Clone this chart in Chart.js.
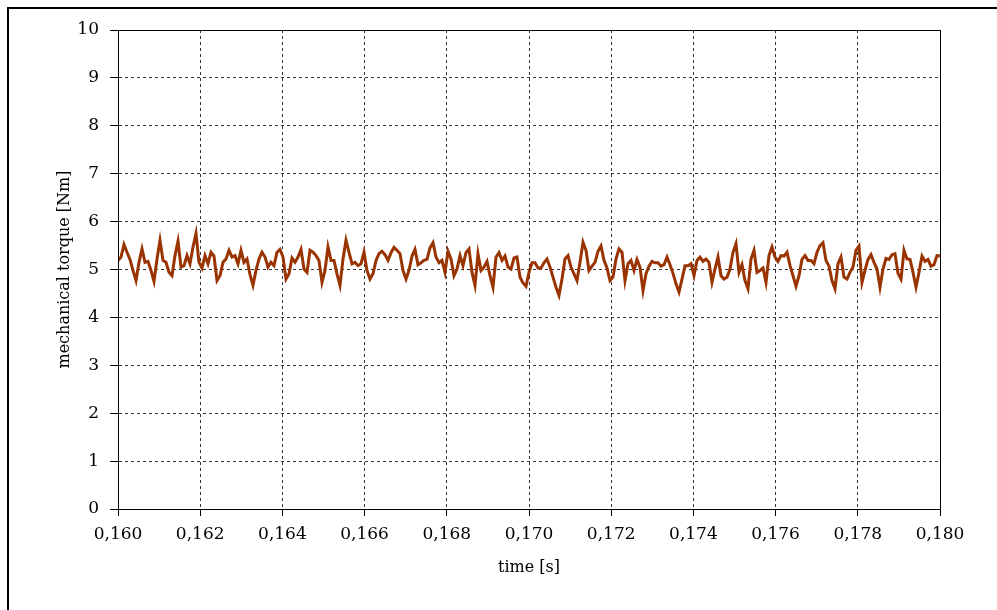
<!DOCTYPE html>
<html>
<head>
<meta charset="utf-8">
<script src="https://cdn.jsdelivr.net/npm/chart.js@4/dist/chart.umd.min.js"></script>
<style>
  html, body { margin: 0; padding: 0; background: #fff; }
  #wrap { width: 997px; height: 610px; position: relative; }
</style>
</head>
<body>
<div id="wrap"><canvas id="torque-chart"></canvas></div>
<script>
// time axis: samples taken on a uniform grid between these two instants
var timeStart = 0.160;
var timeEnd = 0.180;
var timeTicks = [0.160, 0.162, 0.164, 0.166, 0.168, 0.170, 0.172, 0.174, 0.176, 0.178, 0.180];
var torqueTicks = [0, 1, 2, 3, 4, 5, 6, 7, 8, 9, 10];

// mechanical torque [Nm]
var torque = [
  5.19, 5.26, 5.52, 5.36, 5.21, 4.98, 4.77, 5.15, 5.43, 5.15, 5.17, 4.98, 4.75, 5.22, 5.61, 5.19,
  5.15, 4.94, 4.87, 5.29, 5.59, 5.05, 5.08, 5.29, 5.12, 5.47, 5.75, 5.15, 5.03, 5.29, 5.12, 5.36,
  5.28, 4.77, 4.87, 5.15, 5.22, 5.40, 5.26, 5.29, 5.12, 5.40, 5.15, 5.22, 4.90, 4.67, 4.98, 5.22,
  5.36, 5.26, 5.05, 5.15, 5.08, 5.36, 5.42,
  5.26, 4.80, 4.91, 5.24, 5.15, 5.26, 5.42, 5.01, 4.94, 5.40, 5.36, 5.29, 5.19, 4.73, 4.98, 5.47,
  5.19, 5.19, 4.91, 4.67, 5.22, 5.61, 5.36, 5.12, 5.15, 5.08, 5.12, 5.36, 4.98, 4.80, 4.91, 5.19,
  5.33, 5.38, 5.31, 5.19, 5.35, 5.46, 5.40, 5.33, 4.98, 4.80, 4.98, 5.28, 5.42, 5.10, 5.14, 5.19,
  5.21, 5.45, 5.56, 5.26, 5.14, 5.19, 4.94,
  5.38, 5.22, 4.87, 5.01, 5.29, 5.08, 5.35, 5.43, 4.94, 4.67, 5.33, 4.98, 5.05, 5.17, 4.87, 4.63,
  5.26, 5.35, 5.19, 5.28, 5.05, 5.01, 5.24, 5.26, 4.84, 4.72, 4.65, 4.94, 5.14, 5.14, 5.03, 5.03,
  5.14, 5.22, 5.05, 4.84, 4.63, 4.46, 4.80, 5.22, 5.29, 5.05, 4.91, 4.77, 5.15, 5.57, 5.40, 4.98,
  5.07, 5.15, 5.38, 5.49, 5.19, 5.03, 4.77,
  4.84, 5.22, 5.43, 5.36, 4.77, 5.12, 5.19, 4.98, 5.21, 5.05, 4.56, 4.91, 5.07, 5.17, 5.14, 5.14,
  5.07, 5.10, 5.26, 5.10, 4.92, 4.70, 4.53, 4.80, 5.08, 5.08, 5.12, 4.87, 5.19, 5.26, 5.17, 5.22,
  5.15, 4.73, 5.01, 5.26, 4.87, 4.80, 4.84, 5.01, 5.36, 5.54, 4.94, 5.10, 4.77, 4.60, 5.22, 5.40,
  4.94, 4.98, 5.03, 4.73, 5.29, 5.47, 5.26,
  5.17, 5.29, 5.28, 5.36, 5.08, 4.87, 4.65, 4.87, 5.21, 5.29, 5.19, 5.19, 5.12, 5.36, 5.50, 5.56,
  5.19, 5.07, 4.77, 4.60, 5.12, 5.26, 4.84, 4.80, 4.94, 5.05, 5.40, 5.49, 4.73, 4.98, 5.21, 5.31,
  5.15, 5.01, 4.63, 5.01, 5.23, 5.21, 5.31, 5.33, 4.92, 4.80, 5.40, 5.22, 5.21, 4.94, 4.63, 4.94,
  5.28, 5.17, 5.21, 5.07, 5.10, 5.29, 5.28
];

var points = torque.map(function (v, i) {
    return { x: timeStart + i * (timeEnd - timeStart) / (torque.length - 1), y: v };
});

var serif = "'DejaVu Serif', 'Liberation Serif', serif";

// outer figure frame (left and top edges only) and the plot box
var framePlugin = {
    id: 'frame',
    beforeDraw: function (chart) {
        var ctx = chart.ctx;
        ctx.save();
        ctx.fillStyle = '#fff';
        ctx.fillRect(0, 0, chart.width, chart.height);
        ctx.strokeStyle = '#000';
        ctx.lineWidth = 2;
        ctx.beginPath();
        ctx.moveTo(8, chart.height);
        ctx.lineTo(8, 8);
        ctx.lineTo(chart.width, 8);
        ctx.stroke();
        ctx.restore();
    },
    afterDatasetsDraw: function (chart) {
        var a = chart.chartArea;
        var ctx = chart.ctx;
        ctx.save();
        ctx.strokeStyle = '#000';
        ctx.lineWidth = 1;
        ctx.setLineDash([]);
        ctx.strokeRect(Math.round(a.left) + 0.5, Math.round(a.top) + 0.5,
            Math.round(a.right - a.left), Math.round(a.bottom - a.top));
        ctx.restore();
    }
};

var ctx = document.getElementById('torque-chart').getContext('2d');

new Chart(ctx, {
    type: 'line',
    data: {
        datasets: [{
            label: 'mechanical torque',
            data: points,
            borderColor: '#993300',
            borderWidth: 3,
            pointRadius: 0,
            tension: 0,
            fill: false
        }]
    },
    options: {
        responsive: true,
        maintainAspectRatio: false,
        animation: false,
        events: [],
        layout: {
            padding: { left: 51, top: 30, right: 57, bottom: 29 }
        },
        plugins: {
            legend: { display: false },
            tooltip: { enabled: false }
        },
        scales: {
            x: {
                type: 'linear',
                min: timeStart,
                max: timeEnd,
                afterBuildTicks: function (scale) {
                    scale.ticks = timeTicks.map(function (t) { return { value: t }; });
                },
                afterFit: function (scale) {
                    scale.height = 72;
                },
                grid: {
                    color: '#333',
                    tickBorderDash: [],
                    tickColor: '#000',
                    tickLength: 7,
                    lineWidth: 1
                },
                border: { display: true, color: '#000', width: 1, dash: [3, 3] },
                ticks: {
                    color: '#000',
                    padding: 8,
                    maxRotation: 0,
                    autoSkip: false,
                    font: { family: serif, size: 17 },
                    callback: function (value) {
                        return value.toFixed(3).replace('.', ',');
                    }
                },
                title: {
                    display: true,
                    text: 'time [s]',
                    color: '#000',
                    font: { family: serif, size: 16 }
                }
            },
            y: {
                min: 0,
                max: 10,
                afterBuildTicks: function (scale) {
                    scale.ticks = torqueTicks.map(function (t) { return { value: t }; });
                },
                afterFit: function (scale) {
                    scale.width = 67;
                },
                grid: {
                    color: '#333',
                    tickBorderDash: [],
                    tickColor: '#000',
                    tickLength: 8,
                    lineWidth: 1
                },
                border: { display: true, color: '#000', width: 1, dash: [3, 3] },
                ticks: {
                    color: '#000',
                    padding: 11,
                    autoSkip: false,
                    font: { family: serif, size: 17 }
                },
                title: {
                    display: true,
                    text: 'mechanical torque [Nm]',
                    color: '#000',
                    font: { family: serif, size: 16 }
                }
            }
        }
    },
    plugins: [framePlugin]
});
</script>
</body>
</html>
